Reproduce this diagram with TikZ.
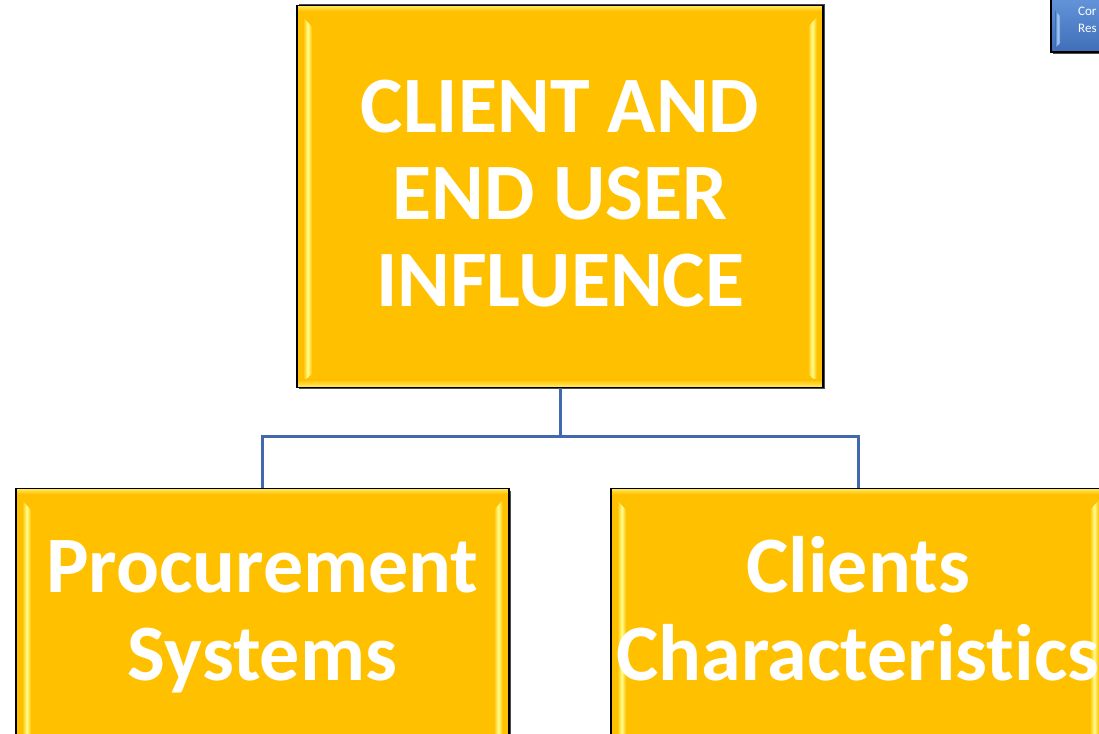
\documentclass[tikz,border=0pt]{standalone}
\usepackage{fontspec}
\setmainfont{Carlito}[Ligatures=NoCommon]
\definecolor{gold}{HTML}{FFC000}
\definecolor{goldlight}{HTML}{FFFF8C}
\definecolor{conncol}{HTML}{4268AE}
\definecolor{blueA}{HTML}{6A9BE0}
\definecolor{blueB}{HTML}{3F6FB8}
\definecolor{bluelight}{HTML}{A9CBF5}
\begin{document}
\begin{tikzpicture}[x=1pt,y=1pt,
  goldbox/.style={draw=black, line width=1.6pt, fill=gold, inner sep=0pt},
  bigtext/.style={text=white, font=\fontsize{80}{87}\selectfont\bfseries, align=center, anchor=base},
  conn/.style={draw=conncol, line width=3pt},
  bev/.style={left color=gold, right color=gold, middle color=goldlight},
  bevh/.style={top color=gold, bottom color=goldlight!70!gold},
  bevt/.style={top color=goldlight!60!gold, bottom color=gold}]
\useasboundingbox (0,0) rectangle (1099,733);
\fill[white] (0,0) rectangle (1099,733);
% top box
\fill[black!70] (299,344) rectangle (825,729);
\node[goldbox, minimum width=526pt, minimum height=381pt] (top) at (560,536.5) {};
\shade[bevt] ([xshift=2pt,yshift=-1pt]top.north west) rectangle ([xshift=-2pt,yshift=-6pt]top.north east);
\shade[bev] ([xshift=7pt,yshift=-12pt]top.north west) -- ([xshift=16pt,yshift=-22pt]top.north west) -- ([xshift=16pt,yshift=14pt]top.south west) -- ([xshift=7pt,yshift=6pt]top.south west) -- cycle;
\shade[bev] ([xshift=-7pt,yshift=-12pt]top.north east) -- ([xshift=-16pt,yshift=-22pt]top.north east) -- ([xshift=-16pt,yshift=14pt]top.south east) -- ([xshift=-7pt,yshift=6pt]top.south east) -- cycle;
\shade[bevh] ([xshift=2pt,yshift=8pt]top.south west) rectangle ([xshift=-2pt,yshift=1pt]top.south east);
\node[bigtext] (toptext) at (560,426) {CLIENT AND\\END USER\\INFLUENCE};
% bottom left box
\fill[black!70] (18,-40) rectangle (511,242);
\node[goldbox, minimum width=493pt, minimum height=284pt] (pl) at (262.5,102) {};
\shade[bevt] ([xshift=2pt,yshift=-1pt]pl.north west) rectangle ([xshift=-2pt,yshift=-6pt]pl.north east);
\shade[bev] ([xshift=7pt,yshift=-12pt]pl.north west) -- ([xshift=16pt,yshift=-22pt]pl.north west) -- ([xshift=16pt,yshift=14pt]pl.south west) -- ([xshift=7pt,yshift=6pt]pl.south west) -- cycle;
\shade[bev] ([xshift=-7pt,yshift=-12pt]pl.north east) -- ([xshift=-16pt,yshift=-22pt]pl.north east) -- ([xshift=-16pt,yshift=14pt]pl.south east) -- ([xshift=-7pt,yshift=6pt]pl.south east) -- cycle;
\node[bigtext] (pltext) at (262.5,53) {Procurement\\Systems};
% bottom right box
\fill[black!70] (613,-40) rectangle (1107,242);
\node[goldbox, minimum width=494pt, minimum height=284pt] (pr) at (858,102) {};
\shade[bevt] ([xshift=2pt,yshift=-1pt]pr.north west) rectangle ([xshift=-2pt,yshift=-6pt]pr.north east);
\shade[bev] ([xshift=7pt,yshift=-12pt]pr.north west) -- ([xshift=16pt,yshift=-22pt]pr.north west) -- ([xshift=16pt,yshift=14pt]pr.south west) -- ([xshift=7pt,yshift=6pt]pr.south west) -- cycle;
\shade[bev] ([xshift=-7pt,yshift=-12pt]pr.north east) -- ([xshift=-16pt,yshift=-22pt]pr.north east) -- ([xshift=-16pt,yshift=14pt]pr.south east) -- ([xshift=-7pt,yshift=6pt]pr.south east) -- cycle;
\node[bigtext] (prtext) at (858,53) {Clients\\Characteristics};
% connectors
\coordinate (split) at (560,296);
\draw[conn] (top.south) -- (split);
\draw[conn] (split) -| (pl.north);
\draw[conn] (split) -| (pr.north);
% blue box top right
\fill[black!70] (1053,679) rectangle (1115,745);
\shade[top color=blueA, bottom color=blueB, draw=black, line width=1.2pt] (1051,681) rectangle (1113,745);
\shade[left color=blueB, right color=blueA, middle color=bluelight] (1055,722) -- (1060,717) -- (1060,690) -- (1055,685) -- cycle;
\node[text=white, font=\fontsize{13}{17}\selectfont, align=left, anchor=north west, inner sep=0pt] (bluetext) at (1078,726) {Cor\\Res};
\end{tikzpicture}
\end{document}
